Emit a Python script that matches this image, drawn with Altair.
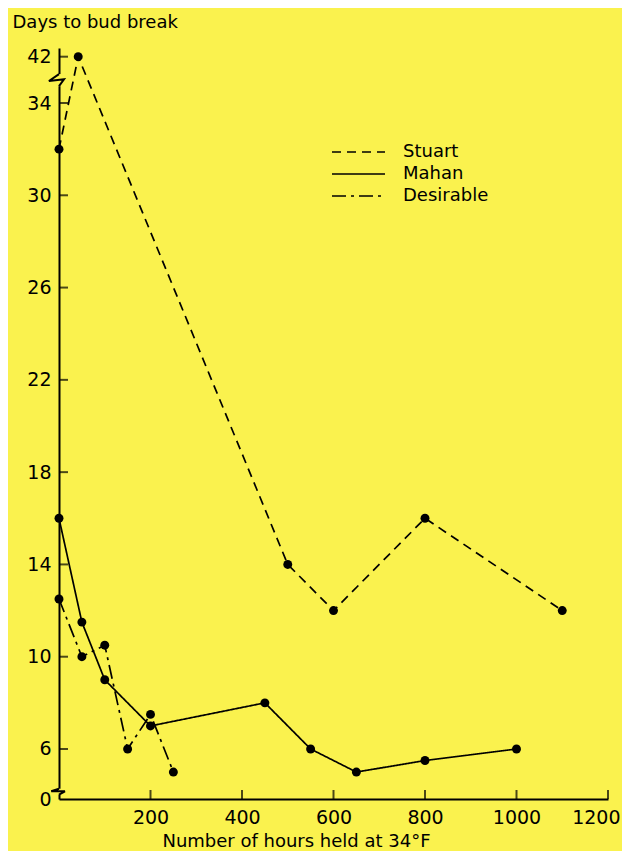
import altair as alt
import pandas as pd

# ---- data ----
series_names = ["Stuart", "Mahan", "Desirable"]

stuart_hours = [0, 42, 500, 600, 800, 1100]
stuart_days = [32, 42, 14, 12, 16, 12]

mahan_hours = [0, 50, 100, 200, 450, 550, 650, 800, 1000]
mahan_days = [16, 11.5, 9, 7, 8, 6, 5, 5.5, 6]

desirable_hours = [0, 50, 100, 150, 200, 250]
desirable_days = [12.5, 10, 10.5, 6, 7.5, 5]

x_tick_values = [200, 400, 600, 800, 1000, 1200]
y_tick_values = [0, 6, 10, 14, 18, 22, 26, 30, 34, 42]
y_tick_marks = [6, 10, 14, 18, 22, 26, 30, 34, 42]

# ---- styling ----
BG = "#FAF24E"
INK = "black"
FONT = "DejaVu Sans"

rows = []
for name, hs, ds in [("Stuart", stuart_hours, stuart_days),
                     ("Mahan", mahan_hours, mahan_days),
                     ("Desirable", desirable_hours, desirable_days)]:
    for h, d in zip(hs, ds):
        rows.append({"series": name, "hours": h, "days": d})
df = pd.DataFrame(rows)

# broken y axis: piecewise linear scale (0 | break | 4.5 .. 34 | break | 42)
x_scale = alt.Scale(domain=[0, 1200], range=[0, 549], nice=False, zero=False)
y_scale = alt.Scale(domain=[0, 4.5, 34, 43.5], range=[751, 735.6, 55, 0], nice=False, zero=False)
dash_scale = alt.Scale(domain=series_names, range=[[9, 6], [1, 0], [14, 5, 3, 5]])

x_axis = alt.Axis(values=x_tick_values, format="d", tickSize=0, labelPadding=9,
                  labelFlush=True, labelFlushOffset=12,
                  labelOverlap=False, labelFontSize=19, labelFont=FONT, labelColor=INK,
                  domainColor=INK, domainWidth=2, grid=False,
                  title="Number of hours held at 34°F", titleFont=FONT, titleFontSize=18,
                  titleFontWeight="normal", titleColor=INK, titleX=237, titleY=47,
                  titleAlign="center", titleBaseline="alphabetic")
y_axis = alt.Axis(values=y_tick_values, format="d", tickSize=0, labelPadding=8, labelOverlap=False,
                  labelFontSize=19, labelFont=FONT, labelColor=INK,
                  domainColor=INK, domainWidth=2, grid=False,
                  title="Days to bud break", titleFont=FONT, titleFontSize=18,
                  titleFontWeight="normal", titleColor=INK, titleAngle=0,
                  titleX=-47, titleY=-21, titleAlign="left", titleBaseline="alphabetic")

base = alt.Chart(df)

lines = base.mark_line(color=INK, strokeWidth=1.7).encode(
    x=alt.X("hours:Q", scale=x_scale, axis=x_axis),
    y=alt.Y("days:Q", scale=y_scale, axis=y_axis),
    strokeDash=alt.StrokeDash("series:N", scale=dash_scale, legend=None),
    detail="series:N",
)

points = base.mark_circle(color=INK, size=80, opacity=1).encode(
    x=alt.X("hours:Q", scale=x_scale),
    y=alt.Y("days:Q", scale=y_scale),
)

xt = alt.Chart(pd.DataFrame({"v": x_tick_values})).mark_tick(
    color=INK, orient="vertical", size=9, thickness=2, yOffset=-4.5
).encode(x=alt.X("v:Q", scale=x_scale), y=alt.datum(0, scale=y_scale))

yt = alt.Chart(pd.DataFrame({"v": y_tick_marks})).mark_tick(
    color=INK, orient="horizontal", size=9, thickness=2, xOffset=4.5
).encode(y=alt.Y("v:Q", scale=y_scale), x=alt.datum(0, scale=x_scale))

# axis break symbols
breaks = pd.DataFrame({
    "brk": ["top"] * 4 + ["bottom"] * 4,
    "o": [0, 1, 2, 3] * 2,
    "bx": [0, -22, 11, 0, 0, -17, 13, 0],
    "by": [39.0, 37.8, 38.1, 36.9, 3.0, 2.25, 2.25, 1.3],
})
cover = alt.Chart(pd.DataFrame({"y1": [39.0, 3.0], "y2": [36.9, 1.3]})).mark_rule(
    color=BG, strokeWidth=6
).encode(x=alt.datum(0, scale=x_scale), y=alt.Y("y1:Q", scale=y_scale), y2="y2:Q")
zig = alt.Chart(breaks).mark_line(color=INK, strokeWidth=2).encode(
    x=alt.X("bx:Q", scale=x_scale), y=alt.Y("by:Q", scale=y_scale),
    detail="brk:N", order="o:Q")

# key (upper right)
legend_rows = [104, 126, 148]
legend_layers = []
for name, ypix in zip(series_names, legend_rows):
    ld = alt.Chart(pd.DataFrame({"series": [name]}))
    legend_layers.append(
        ld.mark_rule(color=INK, strokeWidth=1.7).encode(
            x=alt.value(273), x2=alt.value(326), y=alt.value(ypix),
            strokeDash=alt.StrokeDash("series:N", scale=dash_scale, legend=None))
    )
    legend_layers.append(
        ld.mark_text(align="left", baseline="middle", font=FONT, fontSize=18, color=INK).encode(
            x=alt.value(344), y=alt.value(ypix), text="series:N")
    )

chart = alt.layer(lines, points, xt, yt, cover, zig, *legend_layers).properties(
    width=549, height=751,
    padding={"left": 51, "top": 40, "right": 14, "bottom": 52},
    autosize=alt.AutoSizeParams(type="none"),
    background=BG,
).configure_view(stroke=None)

chart.save("out.html", embed_options={"renderer": "svg", "actions": False})
